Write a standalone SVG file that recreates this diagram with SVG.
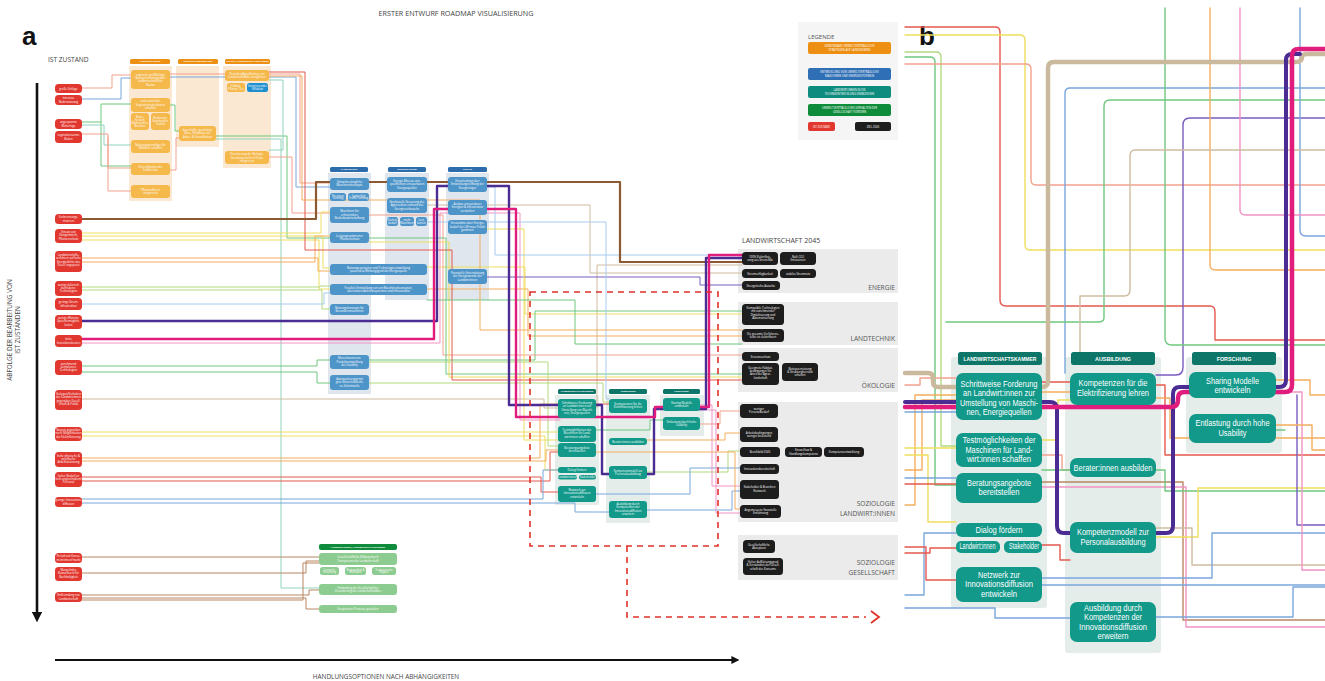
<svg xmlns="http://www.w3.org/2000/svg" width="1325" height="681" viewBox="0 0 1325 681">
<defs>
<marker id="ah" viewBox="0 0 10 10" refX="2" refY="5" markerWidth="4" markerHeight="4" orient="auto"><path d="M0,0 L10,5 L0,10 z" fill="#111"/></marker>
<style>
.f{font-family:"Open Sans","Noto Sans",sans-serif}
.t{font-family:"Open Sans","Noto Sans",sans-serif;font-size:2.8px;fill:#fff;text-anchor:middle}
.th{font-family:"Open Sans","Noto Sans",sans-serif;font-size:2.3px;fill:#fff;text-anchor:middle;font-weight:bold}
.red{fill:#e1372e}.blk{fill:#1d1d1d}
.or{fill:#f5b84b}.orh{fill:#ec8f12}.orb{fill:#fbe8d2}
.bl{fill:#4d94c9}.blh{fill:#2e6dab}.blb{fill:#dfe6ee}
.te{fill:#12998a}.teh{fill:#0d7668}.teb{fill:#e5edeb}
.gr{fill:#8dcc90}.grh{fill:#0f8b3c}
.pan{fill:#ebebeb}
.lab{font-family:"Open Sans","Noto Sans",sans-serif;font-size:6.6px;fill:#555;text-anchor:end}
.bt{font-family:"Liberation Sans",Arial,sans-serif;font-size:8.3px;fill:#fff;text-anchor:middle}
.bh{font-family:"Liberation Sans",Arial,sans-serif;font-size:5.4px;fill:#fff;text-anchor:middle;font-weight:bold}
#connectors path{fill:none;stroke-linejoin:round;stroke-linecap:round}
.w{stroke-width:1}
.wb{stroke-width:1.4}
.sal{stroke:#f2a18e}.ora{stroke:#f4ad5e}.yel{stroke:#eede5e}.lgr{stroke:#b3d97f}.grn{stroke:#6fc77e}.tea{stroke:#8fd3bc}
.blu{stroke:#79a6dc}.lbl{stroke:#a6cbee}.pnk{stroke:#f193c3}.brn{stroke:#b98762}.tan{stroke:#cfbca0}.rd{stroke:#e4594f}.pur{stroke:#7a5cc0}
</style>
</defs>
<rect width="1325" height="681" fill="#fff"/>

<!-- titles -->
<text x="22" y="45" font-family="Liberation Sans,sans-serif" font-size="26" font-weight="bold" fill="#111">a</text>
<text x="919" y="45" font-family="Liberation Sans,sans-serif" font-size="26" font-weight="bold" fill="#111">b</text>
<text x="456" y="16" class="f" font-size="7.2" fill="#444" text-anchor="middle">ERSTER ENTWURF ROADMAP VISUALISIERUNG</text>
<text x="48" y="62" class="f" font-size="6.6" fill="#444">IST ZUSTAND</text>
<text class="f" font-size="6.4" fill="#444" text-anchor="middle" transform="translate(12,330) rotate(-90)"><tspan x="0" y="0">ABFOLGE DER BEARBEITUNG VON</tspan><tspan x="0" y="8">IST ZUSTÄNDEN</tspan></text>
<text x="386" y="679" class="f" font-size="6.4" fill="#444" text-anchor="middle">HANDLUNGSOPTIONEN NACH ABHÄNGIGKEITEN</text>
<line x1="37" y1="83" x2="37" y2="614" stroke="#111" stroke-width="2.6" marker-end="url(#ah)"/>
<line x1="55" y1="660" x2="733" y2="660" stroke="#111" stroke-width="2" marker-end="url(#ah)"/>

<!-- legend -->
<g id="legend">
<rect x="798" y="22" width="100" height="118" fill="#f6f5f5"/>
<text x="808" y="38.5" class="f" font-size="6" fill="#555">LEGENDE</text>
<rect x="808" y="42" width="83" height="12" rx="2" class="orh"/>
<text class="t" font-size="2.4"><tspan x="849.5" y="47.3">GEMEINSAME UMWELTVERTRÄGLICHE</tspan><tspan x="849.5" y="50.6">STRATEGIEN AUF LANDESEBENE</tspan></text>
<rect x="808" y="68" width="83" height="12" rx="2" fill="#2f6fb5"/>
<text class="t" font-size="2.4"><tspan x="849.5" y="73.3">ENTWICKLUNG VON UMWELTVERTRÄGLICHE</tspan><tspan x="849.5" y="76.6">MASCHINEN UND ENERGIESYSTEMEN</tspan></text>
<rect x="808" y="86" width="83" height="12" rx="2" fill="#0e8c7d"/>
<text class="t" font-size="2.4"><tspan x="849.5" y="91.3">LANDWIRT:INNEN IN DIE</tspan><tspan x="849.5" y="94.6">TECHNIKENTWICKLUNG EINBEZIEHEN</tspan></text>
<rect x="808" y="104" width="83" height="12" rx="2" class="grh"/>
<text class="t" font-size="2.4"><tspan x="849.5" y="109.3">UMWELTVERTRÄGLICHES VERHALTEN DER</tspan><tspan x="849.5" y="112.6">GESELLSCHAFT FÖRDERN</tspan></text>
<rect x="808" y="122" width="27" height="9" rx="2" class="red"/>
<text x="821.5" y="127.5" class="t" font-size="2.4">IST ZUSTAND</text>
<rect x="855" y="122" width="36" height="9" rx="2" class="blk"/>
<text x="873" y="127.5" class="t" font-size="2.4">ZIEL 2045</text>
</g>

<!-- backgrounds of columns -->
<g id="backgrounds">
<rect x="129" y="66" width="43" height="135" class="orb"/>
<rect x="176" y="66" width="43" height="81" class="orb"/>
<rect x="223" y="66" width="48" height="102" class="orb"/>
<rect x="328" y="173" width="43" height="221" class="blb"/>
<rect x="385" y="173" width="44" height="127" class="blb"/>
<rect x="446" y="173" width="43" height="127" class="blb"/>
<rect x="555" y="395" width="44" height="110" class="teb"/>
<rect x="606" y="395" width="44" height="128" class="teb"/>
<rect x="660" y="395" width="44" height="41" class="teb"/>
<rect x="738" y="249" width="160" height="44" class="pan"/>
<rect x="738" y="302" width="160" height="43" class="pan"/>
<rect x="738" y="348" width="160" height="44" class="pan"/>
<rect x="738" y="402" width="160" height="120" class="pan"/>
<rect x="738" y="535" width="160" height="45" class="pan"/>
<rect x="951" y="357" width="96" height="251" rx="3" class="teb"/>
<rect x="1065" y="357" width="96" height="296" rx="3" class="teb"/>
<rect x="1186" y="357" width="96" height="96" rx="3" class="teb"/>
</g>

<g id="connectors">
<!-- panel a: orange area -->
<path class="w sal" d="M82,88 H112 V75 H131"/>
<path class="w sal" d="M170,74 H300 V183 H330"/>
<path class="w blu" d="M82,99 H121 V78 H131"/>
<path class="w blu" d="M170,77 H296 V187 H330"/>
<path class="w grn" d="M82,122 H101 V104 H131 M101,122 V166 H131"/>
<path class="w tea" d="M82,125 H104 V145 H131"/>
<path class="w sal" d="M82,134 H108 V168 H131 M108,137 V191 H131"/>
<path class="w grn" d="M170,105 H175 V131 H179"/>
<path class="w sal" d="M170,170 H176 V138 H179"/>
<path class="w grn" d="M216,136 H287 V238 H330"/>
<path class="w tea" d="M216,139 H281 V588 H319"/>
<path class="w sal" d="M269,157 H292 V213 H330"/>
<path class="w tea" d="M269,80 H283 V150 H269"/>
<!-- red boxes to Landtechnik -->
<path class="w yel" d="M82,233 H321 V212 H330"/>
<path class="w yel" d="M82,236 H323 V268 H330"/>
<path class="w yel" d="M82,240 H319 V289 H330"/>
<path class="w ora" d="M82,258 H318 V271 H330"/>
<path class="w ora" d="M82,262 H315 V236 H330"/>
<path class="w lgr" d="M82,287 H320 V286 H330"/>
<path class="w lgr" d="M82,290 H322 V309 H330"/>
<path class="w lbl" d="M82,304 H324 V293 H330"/>
<path class="w grn" d="M82,366 H317 V360 H330"/>
<path class="w grn" d="M82,372 H317 V383 H330"/>
<path class="w pnk" d="M82,343 H440 V213 H520 V420 H560"/>
<!-- lower red boxes to teal cluster -->
<path class="w yel" d="M82,432 H558"/>
<path class="w yel" d="M82,436 H545 V470 H558"/>
<path class="w ora" d="M82,458 H540 V404 H558"/>
<path class="w ora" d="M82,461 H546 V450 H558"/>
<path class="w rd" d="M82,477 H541 V492 H558"/>
<path class="w rd" d="M82,481 H550 V452 H558"/>
<path class="w blu" d="M82,499 H543 V470 H558"/>
<path class="w blu" d="M82,503 H575 V512 H609"/>
<path class="w tan" d="M82,399 H544 V408 H597 V265 H742"/>
<!-- to green cluster -->
<path class="w brn" d="M82,557 H319"/>
<path class="w brn" d="M82,573 H306 V561 H319"/>
<path class="w brn" d="M82,595 H309 V590 H319"/>
<path class="w brn" d="M82,598 H306 V609 H319"/>
<path class="w brn" d="M82,600 H303 V563 H319"/>
<!-- blue cols to 2045 -->
<path class="w yel" d="M427,267 H525 V314 H742"/>
<path class="w ora" d="M427,289 H528 V336 H742"/>
<path class="w grn" d="M369,360 H535 V311 H742"/>
<path class="w sal" d="M369,215 H443 V355 H742"/>
<path class="w grn" d="M369,238 H446 V374 H742"/>
<path class="w yel" d="M369,242 H449 V377 H742"/>
<path class="w rd" d="M269,72 H305 V250 H452 V380 H742"/>
<path class="w tan" d="M427,205 H590 V273 H742"/>
<path class="w pur" d="M487,277 H700 V285 H742"/>
<path class="w yel" d="M487,229 H524 V440 H558"/>
<path class="w lbl" d="M427,222 H606 V399 H609"/>
<path class="w lgr" d="M369,362 H548 V446 H558"/>
<path class="w lgr" d="M369,383 H603 V402 H609"/>
<path class="w grn" d="M427,300 H575 V344 H742"/>
<path class="w ora" d="M269,76 H302 V200 H480 V330 H742"/>
<path class="w lbl" d="M487,187 H495 V255 H742"/>
<!-- teal to soziologie -->
<path class="w sal" d="M700,424 H720 V411 H742"/>
<path class="w ora" d="M647,440 H725 V433 H742"/>
<path class="w lgr" d="M647,472 H728 V451 H742"/>
<path class="w blu" d="M596,494 H690 V468 H742"/>
<path class="w pnk" d="M700,405 H712 V486 H742"/>
<path class="w blu" d="M647,510 H732 V491 H742"/>
<path class="w ora" d="M596,452 H735 V509 H742"/>
<path class="w pnk" d="M700,410 H716 V513 H742"/>
<path class="w rd" d="M596,404 H609"/>
<path class="w grn" d="M596,430 H650 V420 H663"/>
<!-- thick -->
<path d="M82,219 H316 V182 H620 V262 H742" stroke="#8b5a33" stroke-width="2.2"/>
<path d="M82,321 H437 V186 H509 V405 H602 V474 H654 V409 H706 V258 H742" stroke="#4a2c92" stroke-width="2.4"/>
<path d="M82,339 H434 V209 H516 V417 H655 V407 H709 V255 H742" stroke="#e01c7d" stroke-width="2.4"/>

<!-- panel b thin -->
<path class="wb grn" d="M905,57 H930 Q935,57 935,62 V485 H956"/>
<path class="wb lgr" d="M905,52 H936 Q941,52 941,57 V446 H956"/>
<path class="wb rd" d="M905,27 H995 Q1000,27 1000,32 V300 Q1000,306 1006,306 H1210 Q1215,306 1215,312 V340 H1325"/>
<path class="wb yel" d="M905,35 H1020 Q1025,35 1025,40 V245 Q1025,250 1030,250 H1325"/>
<path class="wb sal" d="M905,64 H1026 Q1031,64 1031,69 V180 Q1031,185 1036,185 H1325"/>
<path class="wb blu" d="M1325,88 H1070 Q1065,88 1065,93 V373"/>
<path class="wb grn" d="M1325,100 H1110 Q1104,100 1104,106 V318 Q1104,322 1098,322 H946 V322"/>
<path class="wb pur" d="M1325,118 H1190 Q1183,118 1183,125 V367 Q1183,375 1176,375 H1156"/>
<path class="wb grn" d="M1165,8 V338 Q1165,345 1172,345 H1325"/>
<path class="wb ora" d="M1210,8 V265 Q1210,270 1216,270 H1325"/>
<path class="wb blu" d="M1300,8 V230 Q1300,236 1306,236 H1325"/>
<path class="wb pnk" d="M1240,8 V210 Q1240,215 1246,215 H1325"/>
<path class="wb tan" d="M1325,150 H1135 Q1130,150 1130,156 V290 Q1130,296 1124,296 H1080 V357"/>
<path class="wb sal" d="M905,385 H920 V378 H956"/>
<path class="wb ora" d="M905,505 H915 V395 H956"/>
<path class="wb ora" d="M905,470 H922 V400 H956"/>
<path class="wb yel" d="M905,448 H956"/>
<path class="wb yel" d="M905,455 H928 V522 H956"/>
<path class="wb blu" d="M905,478 H956"/>
<path class="wb rd" d="M905,484 H956"/>
<path class="wb blu" d="M905,595 H924 V533 H956"/>
<path class="wb rd" d="M905,547 H926 V580 H956"/>
<path class="wb rd" d="M905,553 H930 V548 H956"/>
<path class="wb blu" d="M905,608 H995 V618 H1070"/>
<path class="wb blu" d="M905,412 H956"/>
<path class="wb rd" d="M1042,382 H1070"/>
<path class="wb ora" d="M1042,392 H1070"/>
<path class="wb yel" d="M1042,440 H1058 V400 H1070"/>
<path class="wb sal" d="M1042,455 H1062 V470 H1070"/>
<path class="wb rd" d="M1156,385 H1165 V455 H1325"/>
<path class="wb ora" d="M1156,398 H1170 V438 H1325"/>
<path class="wb brn" d="M1042,482 H1183 V620 H1325"/>
<path class="wb pnk" d="M1042,487 H1186 V627 H1325"/>
<path class="wb grn" d="M1042,470 H1165 V491 H1325"/>
<path class="wb yel" d="M1156,537 H1198 V488 H1325"/>
<path class="wb tan" d="M1156,528 H1192 V565 H1325"/>
<path class="wb blu" d="M1042,578 H1212 V533 H1325"/>
<path class="wb blu" d="M1156,617 H1293 V587 H1325"/>
<path class="wb blu" d="M1042,585 H1325"/>
<path class="wb pur" d="M1297,395 V525 H1325"/>
<path class="wb pnk" d="M1276,392 H1302 V570 H1325"/>
<path class="wb ora" d="M1276,380 H1310 V395 H1325"/>
<path class="wb ora" d="M1276,425 H1312 V450 H1325"/>
<path class="wb grn" d="M1276,430 H1285"/>
<path class="wb rd" d="M1042,545 H1060 V560 H1070"/>
<!-- panel b thick -->
<path d="M905,373 H928 Q933,373 933,378 V382 Q933,387 938,387 H1042 Q1048,387 1048,381 V68 Q1048,62 1054,62 H1296 Q1302,62 1302,57 Q1302,54 1308,54 H1325" stroke="#cbb99d" stroke-width="4.5"/>
<path d="M905,402 H1050 Q1057,402 1057,409 V526 Q1057,533 1064,533 H1166 Q1173,533 1173,526 V394 Q1173,387 1180,387 H1279 Q1286,387 1286,380 V60 Q1286,54 1292,54 H1300" stroke="#4a2c92" stroke-width="4"/>
<path d="M905,407 H1171 Q1178,407 1178,400 V398 Q1178,392 1185,392 H1285 Q1292,392 1292,385 V56 Q1292,49 1299,49 H1325" stroke="#e01c7d" stroke-width="4.5"/>
</g>

<!-- red dashed marker -->
<g id="dashed">
<rect x="530" y="292" width="188" height="254" fill="none" stroke="#e0322a" stroke-width="1.6" stroke-dasharray="6,5"/>
<path d="M627,546 V617 H866" fill="none" stroke="#e0322a" stroke-width="1.6" stroke-dasharray="6,5"/>
<path d="M871,611 L879,617 L871,623" fill="none" stroke="#e0322a" stroke-width="1.8"/>
</g>

<!-- red ist-zustand nodes -->
<g id="ist">
<g id="r1"><rect x="55" y="84" width="27" height="9" rx="3.5" class="red"/><text class="t"><tspan x="68.5" y="89.5">große Schläge</tspan></text></g>
<g id="r2"><rect x="55" y="95" width="27" height="10" rx="3.5" class="red"/><text class="t"><tspan x="68.5" y="99.3">intensive</tspan><tspan x="68.5" y="102.6">Bodennutzung</tspan></text></g>
<g id="r3"><rect x="55" y="119" width="27" height="10" rx="3.5" class="red"/><text class="t"><tspan x="68.5" y="123.3">angespannte</tspan><tspan x="68.5" y="126.6">Wetterlage</tspan></text></g>
<g id="r4"><rect x="55" y="131" width="27" height="12" rx="3.5" class="red"/><text class="t"><tspan x="68.5" y="136.3">vegetationsarme</tspan><tspan x="68.5" y="139.6">Böden</tspan></text></g>
<g id="r5"><rect x="55" y="214" width="27" height="10" rx="3.5" class="red"/><text class="t"><tspan x="68.5" y="218.3">Verbrennungs-</tspan><tspan x="68.5" y="221.6">motoren</tspan></text></g>
<g id="r6"><rect x="55" y="229" width="27" height="14" rx="3.5" class="red"/><text class="t"><tspan x="68.5" y="233">Einsatz von</tspan><tspan x="68.5" y="236.4">Düngemitteln,</tspan><tspan x="68.5" y="239.8">Pflanzenschutz</tspan></text></g>
<g id="r7"><rect x="55" y="251" width="27" height="21" rx="3.5" class="red"/><text class="t"><tspan x="68.5" y="256">Landwirtschafts-</tspan><tspan x="68.5" y="259.4">verfahren auf hohe</tspan><tspan x="68.5" y="262.8">Energiedichte des</tspan><tspan x="68.5" y="266.2">Diesel angepasst</tspan></text></g>
<g id="r8"><rect x="55" y="281" width="27" height="15" rx="3.5" class="red"/><text class="t"><tspan x="68.5" y="285.5">wenig elektrisch</tspan><tspan x="68.5" y="288.9">betriebene</tspan><tspan x="68.5" y="292.3">Technologien</tspan></text></g>
<g id="r9"><rect x="55" y="298" width="27" height="12" rx="3.5" class="red"/><text class="t"><tspan x="68.5" y="303.3">geringe Strom-</tspan><tspan x="68.5" y="306.6">infrastruktur</tspan></text></g>
<g id="r10"><rect x="55" y="315" width="27" height="14" rx="3.5" class="red"/><text class="t"><tspan x="68.5" y="319">wenig effiziente</tspan><tspan x="68.5" y="322.4">Speichermöglich-</tspan><tspan x="68.5" y="325.8">keiten</tspan></text></g>
<g id="r11"><rect x="55" y="335" width="27" height="12" rx="3.5" class="red"/><text class="t"><tspan x="68.5" y="340.3">hohe</tspan><tspan x="68.5" y="343.6">Investitionskosten</tspan></text></g>
<g id="r12"><rect x="55" y="360" width="27" height="15" rx="3.5" class="red"/><text class="t"><tspan x="68.5" y="364.5">zunehmend</tspan><tspan x="68.5" y="367.9">komplexere</tspan><tspan x="68.5" y="371.3">Technologien</tspan></text></g>
<g id="r13"><rect x="55" y="390" width="27" height="20" rx="3.5" class="red"/><text class="t"><tspan x="68.5" y="395">Vorlagen/Verhalten</tspan><tspan x="68.5" y="398.4">der Landwirt:innen</tspan><tspan x="68.5" y="401.8">gegenüber Gesell-</tspan><tspan x="68.5" y="405.2">schaft &amp; Politik</tspan></text></g>
<g id="r14"><rect x="55" y="427" width="27" height="14" rx="3.5" class="red"/><text class="t"><tspan x="68.5" y="431">Skepsis gegenüber</tspan><tspan x="68.5" y="434.4">noch. Möglichkeiten</tspan><tspan x="68.5" y="437.8">der Elektrifizierung</tspan></text></g>
<g id="r15"><rect x="55" y="452" width="27" height="15" rx="3.5" class="red"/><text class="t"><tspan x="68.5" y="456.5">hohe physische &amp;</tspan><tspan x="68.5" y="459.9">psychische</tspan><tspan x="68.5" y="463.3">Arbeitsbelastung</tspan></text></g>
<g id="r16"><rect x="55" y="472" width="27" height="15" rx="3.5" class="red"/><text class="t"><tspan x="68.5" y="476.5">hoher Bedarf an</tspan><tspan x="68.5" y="479.9">(teils ungeschultem)</tspan><tspan x="68.5" y="483.3">Personal</tspan></text></g>
<g id="r17"><rect x="55" y="497" width="27" height="10" rx="3.5" class="red"/><text class="t"><tspan x="68.5" y="501.3">geringe Innovations-</tspan><tspan x="68.5" y="504.6">diffusion</tspan></text></g>
<g id="r18"><rect x="55" y="553" width="27" height="10" rx="3.5" class="red"/><text class="t"><tspan x="68.5" y="557.3">Preisdruck Konsu-</tspan><tspan x="68.5" y="560.6">ment:innen/markt</tspan></text></g>
<g id="r19"><rect x="55" y="567" width="27" height="14" rx="3.5" class="red"/><text class="t"><tspan x="68.5" y="571">Mangelndes</tspan><tspan x="68.5" y="574.4">Bewusstsein für</tspan><tspan x="68.5" y="577.8">Nachhaltigkeit</tspan></text></g>
<g id="r20"><rect x="55" y="592" width="27" height="10" rx="3.5" class="red"/><text class="t"><tspan x="68.5" y="596.3">Entfremdung von</tspan><tspan x="68.5" y="599.6">Landwirtschaft</tspan></text></g>
</g>

<!-- orange cluster -->
<g id="orange">
<rect x="130" y="59" width="40" height="5" rx="1.5" class="orh"/><text x="150" y="62.3" class="th">LANDWIRT:INNEN</text>
<rect x="178" y="59" width="40" height="5" rx="1.5" class="orh"/><text x="198" y="62.3" class="th">NATURSCHUTZVERBÄNDE</text>
<rect x="225" y="59" width="45" height="5" rx="1.5" class="orh"/><text x="247.5" y="62.3" class="th">POLITIK, LANDWIRTSCHAFTSKAMMER</text>
<g id="o1"><rect x="131" y="70" width="39" height="19" rx="3" class="or"/><text class="t"><tspan x="150.5" y="75.5">regionale großflächige</tspan><tspan x="150.5" y="78.9">Biotopvernetzung über</tspan><tspan x="150.5" y="82.3">landwirtschaftliche</tspan><tspan x="150.5" y="85.7">Räume</tspan></text></g>
<g id="o2"><rect x="131" y="98" width="39" height="14" rx="3" class="or"/><text class="t"><tspan x="150.5" y="102.2">semi-natürliche</tspan><tspan x="150.5" y="105.6">Vegetationsstrukturen</tspan><tspan x="150.5" y="109">schaffen</tspan></text></g>
<g id="o3"><rect x="131" y="113" width="18" height="17" rx="3" class="or"/><text class="t" font-size="2.4"><tspan x="140" y="118">Raine,</tspan><tspan x="140" y="121">Hecken,</tspan><tspan x="140" y="124">Blühstreifen,</tspan><tspan x="140" y="127">Brachen</tspan></text></g>
<g id="o4"><rect x="151" y="113" width="19" height="17" rx="3" class="or"/><text class="t" font-size="2.4"><tspan x="160.5" y="119">Nistkästen,</tspan><tspan x="160.5" y="122">Steinhaufen,</tspan><tspan x="160.5" y="125">Totholz</tspan></text></g>
<g id="o5"><rect x="131" y="140" width="39" height="13" rx="3" class="or"/><text class="t"><tspan x="150.5" y="145.5">Nahrungsgrundlage für</tspan><tspan x="150.5" y="148.9">Wildtiere schaffen</tspan></text></g>
<g id="o6"><rect x="131" y="163" width="39" height="12" rx="3" class="or"/><text class="t"><tspan x="150.5" y="168">Diversifikation der</tspan><tspan x="150.5" y="171.4">Feldfrüchte</tspan></text></g>
<g id="o7"><rect x="131" y="185" width="39" height="13" rx="3" class="or"/><text class="t"><tspan x="150.5" y="190.5">Pflanzenfluren</tspan><tspan x="150.5" y="193.9">integrieren</tspan></text></g>
<g id="o8"><rect x="179" y="126" width="37" height="15" rx="3" class="or"/><text class="t"><tspan x="197.5" y="130.7">dauerhafte, geschützte</tspan><tspan x="197.5" y="134.1">Brut-, Nistplätze auf</tspan><tspan x="197.5" y="137.5">Acker- &amp; Grenzflächen</tspan></text></g>
<g id="o9"><rect x="225" y="70" width="44" height="11" rx="3" class="or"/><text class="t"><tspan x="247" y="74.8">Parzellen/Agrarflächen, ein</tspan><tspan x="247" y="78.2">Landschaftsbild ermöglichen</tspan></text></g>
<g id="o10"><rect x="227" y="83" width="18" height="9" rx="2.5" class="or"/><text class="t" font-size="2.4"><tspan x="236" y="87">Habitat,</tspan><tspan x="236" y="90">Pflanze, Tier</tspan></text></g>
<g id="o11"><rect x="247" y="83" width="21" height="9" rx="2.5" fill="#1e8fcf"/><text class="t" font-size="2.4"><tspan x="257.5" y="87">Integrierendes</tspan><tspan x="257.5" y="90">Infoblatt</tspan></text></g>
<g id="o12"><rect x="225" y="151" width="44" height="13" rx="3" class="or"/><text class="t"><tspan x="247" y="155.3">Orientierung der Biologie-</tspan><tspan x="247" y="158.7">forschung mehr in Praxis</tspan><tspan x="247" y="162.1">integrieren</tspan></text></g>
</g>

<!-- blue cluster -->
<g id="blue">
<rect x="330" y="167" width="38" height="5" rx="1.5" class="blh"/><text x="349" y="170.3" class="th">LANDTECHNIK</text>
<rect x="388" y="167" width="38" height="5" rx="1.5" class="blh"/><text x="407" y="170.3" class="th">ENERGIESYSTEME</text>
<rect x="448" y="167" width="39" height="5" rx="1.5" class="blh"/><text x="467.5" y="170.3" class="th">POLITIK</text>
<g id="l1"><rect x="330" y="178" width="39" height="12" rx="3" class="bl"/><text class="t"><tspan x="349.5" y="183">Umweltverträgliche</tspan><tspan x="349.5" y="186.4">Maschinenkonzepte</tspan></text></g>
<g id="l2"><rect x="330" y="193" width="16" height="8" rx="2.5" class="bl"/><text class="t" font-size="2.2"><tspan x="338" y="196.5">Precision</tspan><tspan x="338" y="199.2">Farming</tspan></text></g>
<g id="l3"><rect x="348" y="193" width="21" height="8" rx="2.5" class="bl"/><text class="t" font-size="2.2"><tspan x="358.5" y="196.5">Controlled</tspan><tspan x="358.5" y="199.2">Traffic Farming</tspan></text></g>
<g id="l4"><rect x="330" y="207" width="39" height="16" rx="3" class="bl"/><text class="t"><tspan x="349.5" y="212.3">Maschinen für</tspan><tspan x="349.5" y="215.7">schonendere</tspan><tspan x="349.5" y="219.1">Bodenbewirtschaftung</tspan></text></g>
<g id="l5"><rect x="330" y="232" width="39" height="11" rx="3" class="bl"/><text class="t"><tspan x="349.5" y="236.8">Leistungsoptimierter</tspan><tspan x="349.5" y="240.2">Pflanzenschutz</tspan></text></g>
<g id="l6"><rect x="330" y="264" width="97" height="11" rx="3" class="bl"/><text class="t"><tspan x="378.5" y="268.8">Nutzungsszenarien und Technologieentwicklung</tspan><tspan x="378.5" y="272.2">passend zu Wirkungsgrad der Energiequelle</tspan></text></g>
<g id="l7"><rect x="330" y="284" width="97" height="11" rx="3" class="bl"/><text class="t"><tspan x="378.5" y="288.8">Parallele Entwicklung von von Maschinenkonzepten,</tspan><tspan x="378.5" y="292.2">alternativen Antriebssystemen und Infrastruktur</tspan></text></g>
<g id="l8"><rect x="330" y="304" width="39" height="11" rx="3" class="bl"/><text class="t"><tspan x="349.5" y="308.8">Nutzungskonzepte für</tspan><tspan x="349.5" y="312.2">Besondersmaschinen</tspan></text></g>
<g id="l9"><rect x="330" y="355" width="39" height="14" rx="3" class="bl"/><text class="t"><tspan x="349.5" y="359.3">Menschzentrierte</tspan><tspan x="349.5" y="362.7">Produktentwicklung</tspan><tspan x="349.5" y="366.1">der Usability</tspan></text></g>
<g id="l10"><rect x="330" y="375" width="39" height="15" rx="3" class="bl"/><text class="t"><tspan x="349.5" y="379.7">Automatisierung mit</tspan><tspan x="349.5" y="383.1">gute Mensch-Maschi-</tspan><tspan x="349.5" y="386.5">ne-Schnittstelle</tspan></text></g>
<g id="e1"><rect x="387" y="177" width="40" height="15" rx="3" class="bl"/><text class="t"><tspan x="407" y="181.7">Energie-Mix aus orts-</tspan><tspan x="407" y="185.1">spezifischen erneuerbaren</tspan><tspan x="407" y="188.5">Energiequellen</tspan></text></g>
<g id="e2"><rect x="387" y="198" width="40" height="15" rx="3" class="bl"/><text class="t"><tspan x="407" y="202.7">Strukturelle Steuerung des</tspan><tspan x="407" y="206.1">Agrarsektors anhand des</tspan><tspan x="407" y="209.5">Energieverbrauchs</tspan></text></g>
<g id="e3"><rect x="387" y="217" width="11" height="9" rx="2.5" class="bl"/><text class="t" font-size="2.2"><tspan x="392.5" y="221">Flächen-</tspan><tspan x="392.5" y="223.8">bedarf</tspan></text></g>
<g id="e4"><rect x="400" y="217" width="14" height="9" rx="2.5" class="bl"/><text class="t" font-size="2.2"><tspan x="407" y="221">mehr</tspan><tspan x="407" y="223.8">Maschinen</tspan></text></g>
<g id="e5"><rect x="416" y="217" width="11" height="9" rx="2.5" class="bl"/><text class="t" font-size="2.2"><tspan x="421.5" y="221">Last-</tspan><tspan x="421.5" y="223.8">kurven</tspan></text></g>
<g id="p1"><rect x="448" y="177" width="39" height="15" rx="3" class="bl"/><text class="t"><tspan x="467.5" y="181.7">Entscheidung über</tspan><tspan x="467.5" y="185.1">Entwicklungsrichtung der</tspan><tspan x="467.5" y="188.5">Energieträger</tspan></text></g>
<g id="p2"><rect x="448" y="200" width="39" height="15" rx="3" class="bl"/><text class="t"><tspan x="467.5" y="204.7">Ausbau erneuerbarer</tspan><tspan x="467.5" y="208.1">Energien &amp; Infrastruktur</tspan><tspan x="467.5" y="211.5">verstärken</tspan></text></g>
<g id="p3"><rect x="448" y="220" width="39" height="14" rx="3" class="bl"/><text class="t"><tspan x="467.5" y="224.3">Verständnis über Energie-</tspan><tspan x="467.5" y="227.7">bedarf der LW muss Politik</tspan><tspan x="467.5" y="231.1">gewinnen</tspan></text></g>
<g id="p4"><rect x="448" y="269" width="39" height="15" rx="3" class="bl"/><text class="t"><tspan x="467.5" y="273.7">Finanzielle Unterstützung</tspan><tspan x="467.5" y="277.1">der Energiewende der</tspan><tspan x="467.5" y="280.5">Landwirt:innen</tspan></text></g>
</g>

<!-- teal cluster panel a -->
<g id="teal-a">
<rect x="558" y="389" width="38" height="5" rx="1.5" class="teh"/><text x="577" y="392.3" class="th">LANDWIRTSCHAFTSKAMMER</text>
<rect x="609" y="389" width="38" height="5" rx="1.5" class="teh"/><text x="628" y="392.3" class="th">AUSBILDUNG</text>
<rect x="663" y="389" width="37" height="5" rx="1.5" class="teh"/><text x="681.5" y="392.3" class="th">FORSCHUNG</text>
<g id="ta1"><rect x="558" y="399" width="38" height="19" rx="3" class="te"/><text class="t"><tspan x="577" y="404">Schrittweise Forderung</tspan><tspan x="577" y="407.4">an Landwirt:innen zur</tspan><tspan x="577" y="410.8">Umstellung von Maschi-</tspan><tspan x="577" y="414.2">nen, Energiequellen</tspan></text></g>
<g id="ta2"><rect x="558" y="426" width="38" height="16" rx="3" class="te"/><text class="t"><tspan x="577" y="431">Testmöglichkeiten der</tspan><tspan x="577" y="434.4">Maschinen für Land-</tspan><tspan x="577" y="437.8">wirt:innen schaffen</tspan></text></g>
<g id="ta3"><rect x="558" y="443" width="38" height="14" rx="3" class="te"/><text class="t"><tspan x="577" y="449">Beratungsangebote</tspan><tspan x="577" y="452.4">bereitstellen</tspan></text></g>
<g id="ta4"><rect x="558" y="467" width="38" height="6" rx="2.5" class="te"/><text x="577" y="471" class="t">Dialog fördern</text></g>
<g id="ta5"><rect x="558" y="475" width="19" height="4.5" rx="2" class="te"/><text x="567.5" y="478.2" class="t" font-size="2.2">Landwirt:innen</text></g>
<g id="ta6"><rect x="579" y="475" width="17" height="4.5" rx="2" class="te"/><text x="587.5" y="478.2" class="t" font-size="2.2">Stakeholder</text></g>
<g id="ta7"><rect x="558" y="486" width="38" height="16" rx="3" class="te"/><text class="t"><tspan x="577" y="491">Netzwerk zur</tspan><tspan x="577" y="494.4">Innovationsdiffusion</tspan><tspan x="577" y="497.8">entwickeln</tspan></text></g>
<g id="ta8"><rect x="609" y="399" width="38" height="14" rx="3" class="te"/><text class="t"><tspan x="628" y="405">Kompetenzen für die</tspan><tspan x="628" y="408.4">Elektrifizierung lehren</tspan></text></g>
<g id="ta9"><rect x="609" y="438" width="38" height="7" rx="3" class="te"/><text x="628" y="442.5" class="t">Berater:innen ausbilden</text></g>
<g id="ta10"><rect x="609" y="466" width="38" height="13" rx="3" class="te"/><text class="t"><tspan x="628" y="471.5">Kompetenzmodell zur</tspan><tspan x="628" y="474.9">Personalausbildung</tspan></text></g>
<g id="ta11"><rect x="609" y="501" width="38" height="17" rx="3" class="te"/><text class="t"><tspan x="628" y="504.8">Ausbildung durch</tspan><tspan x="628" y="508.2">Kompetenzen der</tspan><tspan x="628" y="511.6">Innovationsdiffusion</tspan><tspan x="628" y="515">erweitern</tspan></text></g>
<g id="ta12"><rect x="663" y="398" width="37" height="13" rx="3" class="te"/><text class="t"><tspan x="681.5" y="403.5">Sharing Modelle</tspan><tspan x="681.5" y="406.9">entwickeln</tspan></text></g>
<g id="ta13"><rect x="663" y="417" width="37" height="13" rx="3" class="te"/><text class="t"><tspan x="681.5" y="422.5">Entlastung durch hohe</tspan><tspan x="681.5" y="425.9">Usability</tspan></text></g>
</g>

<!-- green cluster -->
<g id="green">
<rect x="319" y="544" width="78" height="6" rx="2" class="grh"/><text x="358" y="548" class="th">LANDWIRT:INNEN, LANDWIRTSCHAFTSKAMMER</text>
<g id="g1"><rect x="319" y="553" width="78" height="12" rx="3" class="gr"/><text class="t"><tspan x="358" y="558.2">Gesellschaftliche Bildung durch</tspan><tspan x="358" y="561.6">Transparenz der Landwirtschaft</tspan></text></g>
<g id="g2"><rect x="320" y="567" width="19" height="8" rx="2.5" class="gr"/><text class="t" font-size="2.2"><tspan x="329.5" y="570.5">Lernorte</tspan><tspan x="329.5" y="573.2">Erziehung</tspan></text></g>
<g id="g3"><rect x="345" y="567" width="21" height="8" rx="2.5" class="gr"/><text class="t" font-size="2.2"><tspan x="355.5" y="570.5">Regionalität &amp;</tspan><tspan x="355.5" y="573.2">Hofläden</tspan></text></g>
<g id="g4"><rect x="372" y="567" width="24" height="8" rx="2.5" class="gr"/><text class="t" font-size="2.2"><tspan x="384" y="570.5">Transparente</tspan><tspan x="384" y="573.2">Regeln</tspan></text></g>
<g id="g5"><rect x="319" y="584" width="78" height="11" rx="3" class="gr"/><text class="t"><tspan x="358" y="588.7">Einbindung der Gesellschaft bei</tspan><tspan x="358" y="592.1">Veränderung des Landschaftsbildes</tspan></text></g>
<g id="g6"><rect x="319" y="605" width="78" height="8" rx="3" class="gr"/><text x="358" y="610" class="t">Kooperative Prozesse gestalten</text></g>
</g>

<!-- Landwirtschaft 2045 -->
<g id="ziel2045">
<text x="742" y="243" class="f" font-size="7" fill="#444">LANDWIRTSCHAFT 2045</text>
<text x="895" y="290" class="lab">ENERGIE</text>
<text x="895" y="341" class="lab">LANDTECHNIK</text>
<text x="895" y="388" class="lab">ÖKOLOGIE</text>
<text class="lab"><tspan x="895" y="506">SOZIOLOGIE</tspan><tspan x="895" y="516">LANDWIRT:INNEN</tspan></text>
<text class="lab"><tspan x="895" y="565">SOZIOLOGIE</tspan><tspan x="895" y="575">GESELLSCHAFT</tspan></text>
<g id="z1"><rect x="742" y="252" width="36" height="13" rx="3.5" class="blk"/><text class="t"><tspan x="760" y="257.5">100% Elektrifizie-</tspan><tspan x="760" y="260.9">rung aus Strom-Mix</tspan></text></g>
<g id="z2"><rect x="780" y="252" width="36" height="13" rx="3.5" class="blk"/><text class="t"><tspan x="798" y="257.5">Null: CO2</tspan><tspan x="798" y="260.9">Emissionen</tspan></text></g>
<g id="z3"><rect x="742" y="269" width="36" height="9" rx="3.5" class="blk"/><text x="760" y="274.5" class="t">Stromverfügbarkeit</text></g>
<g id="z4"><rect x="780" y="269" width="36" height="9" rx="3.5" class="blk"/><text x="798" y="274.5" class="t">stabiles Stromnetz</text></g>
<g id="z5"><rect x="742" y="281" width="38" height="9" rx="3.5" class="blk"/><text x="761" y="286.5" class="t">Energetische Autarkie</text></g>
<g id="z6"><rect x="742" y="304" width="42" height="21" rx="3.5" class="blk"/><text class="t"><tspan x="763" y="309">Kompatible Technologien</tspan><tspan x="763" y="312.4">mit zunehmender</tspan><tspan x="763" y="315.8">Digitalisierung und</tspan><tspan x="763" y="319.2">Automatisierung</tspan></text></g>
<g id="z7"><rect x="742" y="329" width="42" height="13" rx="3.5" class="blk"/><text class="t"><tspan x="763" y="334.5">Die gesamte Verfahrens-</tspan><tspan x="763" y="337.9">kette ist elektrifiziert</tspan></text></g>
<g id="z8"><rect x="742" y="352" width="37" height="9" rx="3.5" class="blk"/><text x="760.5" y="357.5" class="t">Erosionsschutz</text></g>
<g id="z9"><rect x="742" y="363" width="37" height="22" rx="3.5" class="blk"/><text class="t"><tspan x="760.5" y="368.5">Geeignete Habitat-</tspan><tspan x="760.5" y="371.9">bedingungen für</tspan><tspan x="760.5" y="375.3">Arten der Agrar-</tspan><tspan x="760.5" y="378.7">landschaft</tspan></text></g>
<g id="z10"><rect x="782" y="363" width="36" height="18" rx="3.5" class="blk"/><text class="t"><tspan x="800" y="369.5">Biotopvernetzung</tspan><tspan x="800" y="372.9">&amp; Strukturdiversität</tspan><tspan x="800" y="376.3">schaffen</tspan></text></g>
<g id="z11"><rect x="740" y="404" width="38" height="14" rx="3.5" class="blk"/><text class="t"><tspan x="759" y="410">weniger</tspan><tspan x="759" y="413.4">Personalbedarf</tspan></text></g>
<g id="z12"><rect x="740" y="427" width="38" height="15" rx="3.5" class="blk"/><text class="t"><tspan x="759" y="433.5">Arbeitsbedingungen</tspan><tspan x="759" y="436.9">weniger belastend</tspan></text></g>
<g id="z13"><rect x="740" y="447" width="40" height="10" rx="3.5" class="blk"/><text x="760" y="453" class="t">Berufsbild 2045</text></g>
<g id="z14"><rect x="785" y="447" width="37" height="10" rx="3.5" class="blk"/><text class="t"><tspan x="803.5" y="451.3">Know-How &amp;</tspan><tspan x="803.5" y="454.6">Handlungskompetenz</tspan></text></g>
<g id="z15"><rect x="824" y="447" width="40" height="10" rx="3.5" class="blk"/><text x="844" y="453" class="t">Kompetenzentwicklung</text></g>
<g id="z16"><rect x="740" y="464" width="39" height="10" rx="3.5" class="blk"/><text x="759.5" y="470" class="t">Innovationsbereitschaft</text></g>
<g id="z17"><rect x="740" y="480" width="39" height="19" rx="3.5" class="blk"/><text class="t"><tspan x="759.5" y="488.3">Stakeholder &amp; Branchen</tspan><tspan x="759.5" y="491.7">Netzwerk</tspan></text></g>
<g id="z18"><rect x="740" y="505" width="41" height="13" rx="3.5" class="blk"/><text class="t"><tspan x="760.5" y="510.5">Angemessene finanzielle</tspan><tspan x="760.5" y="513.9">Entlohnung</tspan></text></g>
<g id="z19"><rect x="743" y="540" width="32" height="13" rx="3.5" class="blk"/><text class="t"><tspan x="759" y="545.5">Gesellschaftliche</tspan><tspan x="759" y="548.9">Akzeptanz</tspan></text></g>
<g id="z20"><rect x="743" y="558" width="40" height="17" rx="3.5" class="blk"/><text class="t"><tspan x="763" y="563">Hoher Aufklärungsgrad</tspan><tspan x="763" y="566.4">&amp; Verständnis der Gesell-</tspan><tspan x="763" y="569.8">schaft des Konsums</tspan></text></g>
</g>

<!-- panel b -->
<g id="teal-b">
<rect x="958" y="352" width="84" height="13" rx="2.5" class="teh"/><text x="1000" y="360.5" class="bh" textLength="73" lengthAdjust="spacingAndGlyphs">LANDWIRTSCHAFTSKAMMER</text>
<rect x="1071" y="352" width="84" height="13" rx="2.5" class="teh"/><text x="1113" y="360.5" class="bh">AUSBILDUNG</text>
<rect x="1192" y="352" width="84" height="13" rx="2.5" class="teh"/><text x="1234" y="360.5" class="bh">FORSCHUNG</text>
<g id="b1"><rect x="956" y="373" width="86" height="47" rx="7" class="te"/><text class="bt"><tspan x="999" y="386.5" textLength="77" lengthAdjust="spacingAndGlyphs">Schrittweise Forderung</tspan><tspan x="999" y="396" textLength="72" lengthAdjust="spacingAndGlyphs">an Landwirt:innen zur</tspan><tspan x="999" y="405.5" textLength="78" lengthAdjust="spacingAndGlyphs">Umstellung von Maschi-</tspan><tspan x="999" y="415" textLength="65" lengthAdjust="spacingAndGlyphs">nen, Energiequellen</tspan></text></g>
<g id="b2"><rect x="956" y="433" width="86" height="34" rx="7" class="te"/><text class="bt"><tspan x="999" y="443" textLength="73" lengthAdjust="spacingAndGlyphs">Testmöglichkeiten der</tspan><tspan x="999" y="452.7" textLength="67" lengthAdjust="spacingAndGlyphs">Maschinen für Land-</tspan><tspan x="999" y="462.3" textLength="64" lengthAdjust="spacingAndGlyphs">wirt:innen schaffen</tspan></text></g>
<g id="b3"><rect x="956" y="473" width="86" height="30" rx="7" class="te"/><text class="bt"><tspan x="999" y="485.7" textLength="64" lengthAdjust="spacingAndGlyphs">Beratungsangebote</tspan><tspan x="999" y="495" textLength="41" lengthAdjust="spacingAndGlyphs">bereitstellen</tspan></text></g>
<g id="b4"><rect x="956" y="523" width="86" height="14" rx="6" class="te"/><text x="999" y="533.3" class="bt" textLength="47" lengthAdjust="spacingAndGlyphs">Dialog fördern</text></g>
<g id="b5"><rect x="956" y="541" width="44" height="12" rx="5" class="te"/><text x="977.5" y="549.2" class="bt" font-size="5.5" textLength="36" lengthAdjust="spacingAndGlyphs">Landwirt:innen</text></g>
<g id="b6"><rect x="1004" y="541" width="38" height="12" rx="5" class="te"/><text x="1024" y="549.2" class="bt" font-size="5.5" textLength="30" lengthAdjust="spacingAndGlyphs">Stakeholder</text></g>
<g id="b7"><rect x="956" y="567" width="86" height="35" rx="7" class="te"/><text class="bt"><tspan x="999" y="578" textLength="42" lengthAdjust="spacingAndGlyphs">Netzwerk zur</tspan><tspan x="999" y="587.4" textLength="68" lengthAdjust="spacingAndGlyphs">Innovationsdiffusion</tspan><tspan x="999" y="597" textLength="36" lengthAdjust="spacingAndGlyphs">entwickeln</tspan></text></g>
<g id="b8"><rect x="1070" y="373" width="86" height="32" rx="7" class="te"/><text class="bt"><tspan x="1113" y="385.7" textLength="69" lengthAdjust="spacingAndGlyphs">Kompetenzen für die</tspan><tspan x="1113" y="395.7" textLength="72" lengthAdjust="spacingAndGlyphs">Elektrifizierung lehren</tspan></text></g>
<g id="b9"><rect x="1070" y="458" width="86" height="19" rx="7" class="te"/><text x="1113" y="470.8" class="bt" textLength="79" lengthAdjust="spacingAndGlyphs">Berater:innen ausbilden</text></g>
<g id="b10"><rect x="1070" y="522" width="86" height="31" rx="7" class="te"/><text class="bt"><tspan x="1113" y="535.3" textLength="72" lengthAdjust="spacingAndGlyphs">Kompetenzmodell zur</tspan><tspan x="1113" y="544.7" textLength="65" lengthAdjust="spacingAndGlyphs">Personalausbildung</tspan></text></g>
<g id="b11"><rect x="1070" y="602" width="86" height="40" rx="7" class="te"/><text class="bt"><tspan x="1113" y="610.7" textLength="58" lengthAdjust="spacingAndGlyphs">Ausbildung durch</tspan><tspan x="1113" y="620.3" textLength="58" lengthAdjust="spacingAndGlyphs">Kompetenzen der</tspan><tspan x="1113" y="629.8" textLength="68" lengthAdjust="spacingAndGlyphs">Innovationsdiffusion</tspan><tspan x="1113" y="639.2" textLength="31" lengthAdjust="spacingAndGlyphs">erweitern</tspan></text></g>
<g id="b12"><rect x="1189" y="372" width="87" height="26" rx="7" class="te"/><text class="bt"><tspan x="1232.5" y="384" textLength="53" lengthAdjust="spacingAndGlyphs">Sharing Modelle</tspan><tspan x="1232.5" y="393.3" textLength="36" lengthAdjust="spacingAndGlyphs">entwickeln</tspan></text></g>
<g id="b13"><rect x="1189" y="414" width="87" height="29" rx="7" class="te"/><text class="bt"><tspan x="1232.5" y="426.3" textLength="74" lengthAdjust="spacingAndGlyphs">Entlastung durch hohe</tspan><tspan x="1232.5" y="435.7" textLength="28" lengthAdjust="spacingAndGlyphs">Usability</tspan></text></g>
</g>
</svg>
